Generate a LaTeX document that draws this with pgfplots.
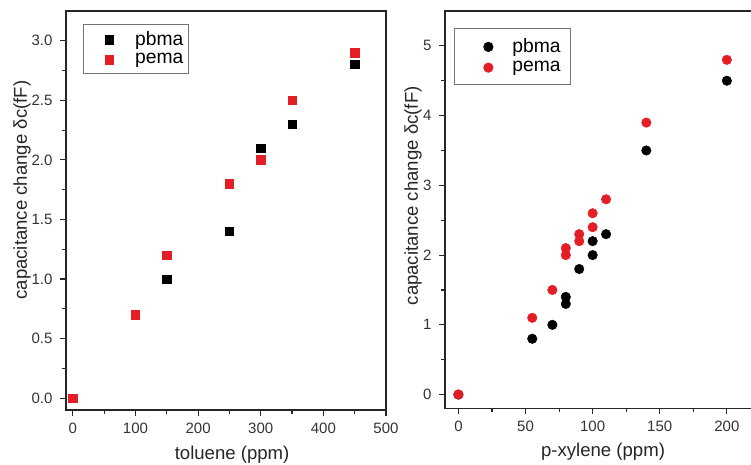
\documentclass[border=0pt]{standalone}
\usepackage{fontspec}
\setmainfont{Liberation Sans}
\usepackage{pgfplots}
\pgfplotsset{compat=1.18}
\definecolor{ptred}{RGB}{228,30,36}

\pgfplotsset{
  panel/.style={
    scale only axis,
    axis line style={black!85, line width=0.9pt},
    tick align=outside,
    xtick pos=bottom, ytick pos=left,
    major tick length=4pt, minor tick length=2.5pt,
    every tick/.style={black!85, line width=0.8pt},
    minor x tick num=1, minor y tick num=1,
    /pgf/number format/assume math mode=true,
    tick label style={font=\fontsize{10.5}{12}\selectfont, black!80},
    xticklabel shift=1.5pt, yticklabel shift=2pt,
    label style={font=\fontsize{13}{15}\selectfont, black!85},
    legend style={draw=black!55, line width=0.5pt, fill=white,
      font=\fontsize{13.5}{15}\selectfont, anchor=north west,
      inner xsep=1.5pt, inner ysep=3pt, row sep=0pt},
    legend cell align=left,
  },
  % marker position and width of the legend image (set after only marks)
  legimg/.style 2 args={
    legend image code/.code={
      \draw[draw=none] (0cm,0cm) -- (#2,0cm);
      \draw[##1] plot[only marks] coordinates {(#1,0cm)};
    },
  },
  legL/.style={legimg={0.6cm}{1.16cm}},
  legR/.style={legimg={0.68cm}{1.2cm}},
}

\begin{document}
\begin{tikzpicture}
\path[use as bounding box] (0pt,0pt) rectangle (525.7pt,-325.5pt);

% left panel: toluene
\begin{axis}[panel,
  at={(46.2pt,-287pt)}, anchor=south west,
  width=224pt, height=279.3pt,
  xmin=-11, xmax=500, ymin=-0.1, ymax=3.25,
  xtick={0,100,...,500}, ytick={0,0.5,...,3.0},
  /pgf/number format/.cd, fixed, fixed zerofill, precision=1, /tikz/.cd,
  xticklabel={\pgfmathprintnumber[fixed,precision=0]{\tick}},
  xlabel={toluene (ppm)}, ylabel={capacitance change δc(fF)},
  xlabel style={at={(axis description cs:0.519,-0.125)}, anchor=base},
  ylabel style={at={(axis description cs:-0.1375,0.551)}, anchor=center},
  legend style={at={(0.052,0.967)}},
]
\addplot[only marks, mark=square*, mark size=2.9pt, black, legL] coordinates {
  (0,0) (100,0.7) (150,1.0) (250,1.4) (300,2.1) (350,2.3) (450,2.8)
};
\addlegendentry{pbma}
\addplot[only marks, mark=square*, mark size=2.9pt, ptred, legL] coordinates {
  (0,0) (100,0.7) (150,1.2) (250,1.8) (300,2.0) (350,2.5) (450,2.9)
};
\addlegendentry{pema}
\end{axis}

% right panel: p-xylene
\begin{axis}[panel,
  at={(311.5pt,-285.95pt)}, anchor=south west,
  width=216.1pt, height=278.25pt,
  xmin=-10, xmax=220, ymin=-0.2, ymax=5.5,
  xtick={0,50,...,200}, ytick={0,1,...,5},
  xlabel={p-xylene (ppm)}, ylabel={capacitance change δc(fF)},
  xlabel style={at={(axis description cs:0.512,-0.121)}, anchor=base},
  ylabel style={at={(axis description cs:-0.1037,0.535)}, anchor=center},
  legend style={at={(0.029,0.956)}, inner xsep=4.5pt, inner ysep=5pt,
    row sep=0.5pt},
]
\addplot[only marks, mark=*, mark size=3.3pt, black, legR] coordinates {
  (0,0) (55,0.8) (70,1.0) (80,1.3) (80,1.4) (90,1.8) (100,2.0) (100,2.2)
  (110,2.3) (140,3.5) (200,4.5)
};
\addlegendentry{pbma}
\addplot[only marks, mark=*, mark size=3.3pt, ptred, legR] coordinates {
  (0,0) (55,1.1) (70,1.5) (80,2.0) (80,2.1) (90,2.2) (90,2.3) (100,2.4)
  (100,2.6) (110,2.8) (140,3.9) (200,4.8)
};
\addlegendentry{pema}
\end{axis}
\end{tikzpicture}
\end{document}
